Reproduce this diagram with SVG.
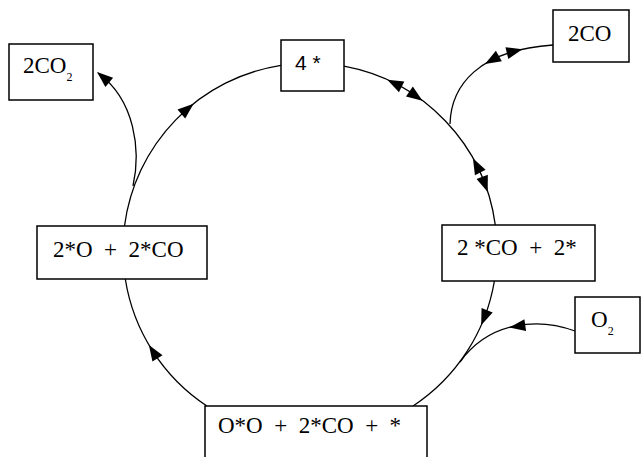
<svg xmlns="http://www.w3.org/2000/svg" xmlns:xlink="http://www.w3.org/1999/xlink" width="641" height="457" viewBox="0 0 641 457">
<style>
.box{fill:#fff;stroke:#000;stroke-width:1.5}
.ln{fill:none;stroke:#000;stroke-width:1.3}
.ah{fill:#000}
</style>
<defs>
<path id="ah" d="M0,0 L-16,-6 L-16,6 Z"/>
</defs>
<rect width="641" height="457" fill="#fff"/>
<g id="connectors">
<path class="ln" d="M124.5,226 A187,187 0 0 1 281,65.3"/>
<path class="ln" d="M344,66.1 A187,187 0 0 1 495.3,225"/>
<path class="ln" d="M494.4,281 A187,187 0 0 1 413.1,406"/>
<path class="ln" d="M206.9,406 A187,187 0 0 1 125.3,279"/>
<path class="ln" d="M133,186 C141,150 135,100 98,73"/>
<path class="ln" d="M450,124 C451,86 478,50 553,45"/>
<path class="ln" d="M575,331 C540,318 490,320 460,362"/>
<use class="ah" xlink:href="#ah" transform="translate(193.6,103.7) rotate(-40)"/>
<use class="ah" xlink:href="#ah" transform="translate(148.9,344.9) rotate(237.5)"/>
<use class="ah" xlink:href="#ah" transform="translate(481.2,325.2) rotate(111.7)"/>
<use class="ah" xlink:href="#ah" transform="translate(387.3,79.7) rotate(-153.6)"/>
<use class="ah" xlink:href="#ah" transform="translate(422.5,100.7) rotate(35)"/>
<use class="ah" xlink:href="#ah" transform="translate(472.9,158.2) rotate(-117.4)"/>
<use class="ah" xlink:href="#ah" transform="translate(487.7,191.9) rotate(69.9)"/>
<use class="ah" xlink:href="#ah" transform="translate(485,64) rotate(150)"/>
<use class="ah" xlink:href="#ah" transform="translate(522.4,49.2) rotate(-14)"/>
<use class="ah" xlink:href="#ah" transform="translate(509.4,327.4) rotate(172)"/>
<use class="ah" xlink:href="#ah" transform="translate(97,72) rotate(220)"/>
</g>
<g font-family="'Liberation Serif', 'Times New Roman', serif" font-size="23" fill="#000">
<g id="node-2co2">
<rect class="box" x="9" y="44" width="84" height="56"/>
<text x="23" y="73">2CO<tspan font-size="12" dy="8">2</tspan></text>
</g>
<g id="node-4s">
<rect class="box" x="281" y="40" width="63" height="51"/>
<text x="295" y="70" font-family="'Liberation Sans', Arial, sans-serif" font-size="21" xml:space="preserve">4 *</text>
</g>
<g id="node-2co">
<rect class="box" x="553" y="10" width="76" height="52"/>
<text x="568" y="41">2CO</text>
</g>
<g id="node-2sco-2s">
<rect class="box" x="442" y="225" width="153" height="56"/>
<text x="457" y="255" xml:space="preserve">2 *CO  +  2*</text>
</g>
<g id="node-o2">
<rect class="box" x="575" y="297" width="65" height="56"/>
<text x="591" y="327">O<tspan font-size="12" dy="8">2</tspan></text>
</g>
<g id="node-2so-2sco">
<rect class="box" x="37" y="226" width="170" height="53"/>
<text x="53" y="257" xml:space="preserve">2*O  +  2*CO</text>
</g>
<g id="node-oso-2sco-s">
<rect class="box" x="205" y="406" width="222" height="70"/>
<text x="218" y="433" xml:space="preserve">O*O  +  2*CO  +  *</text>
</g>
</g>
</svg>
